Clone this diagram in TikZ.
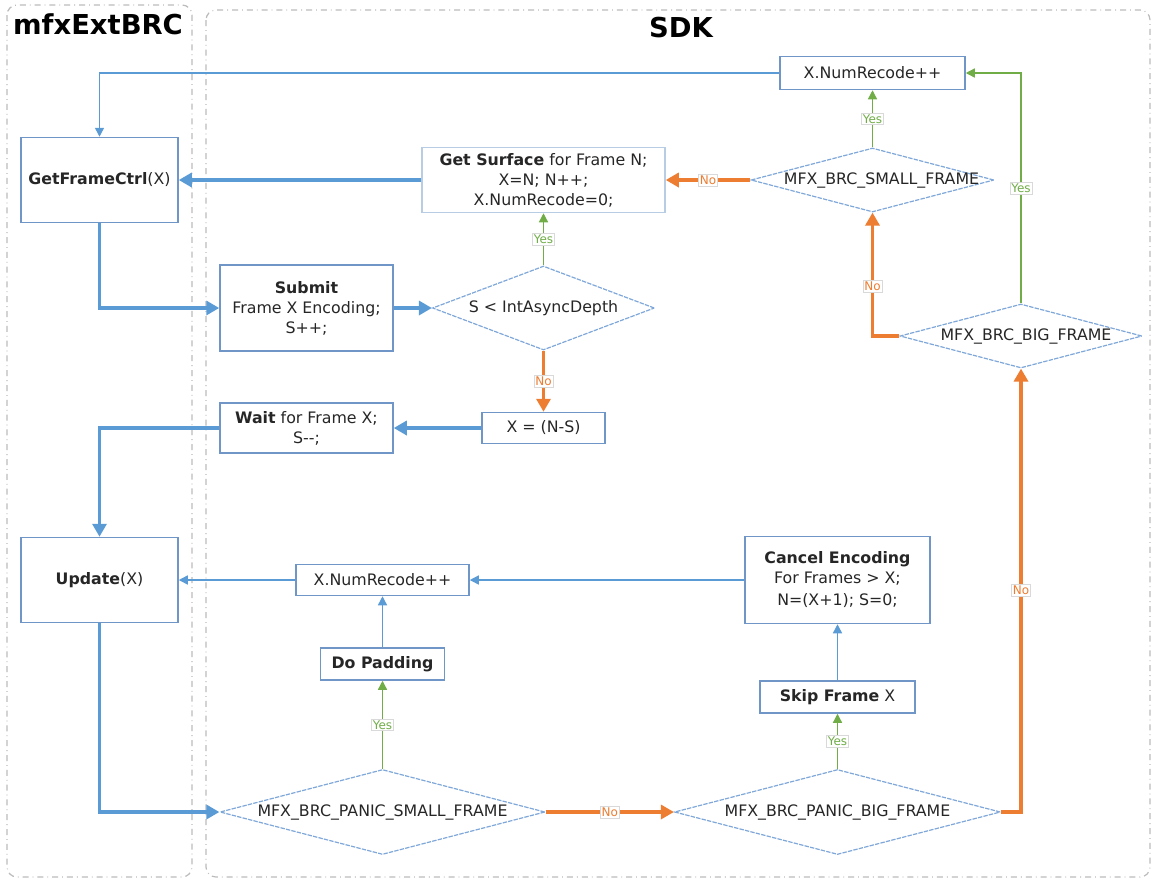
\documentclass[tikz,border=0pt]{standalone}
\usepackage{fontspec}
\setmainfont{DejaVu Sans}
\usetikzlibrary{arrows.meta,positioning,shapes.geometric}
\definecolor{boxblue}{HTML}{7096C8}
\definecolor{softblue}{HTML}{B8CCE4}
\definecolor{decblue}{HTML}{7FA7D9}
\definecolor{lineblue}{HTML}{5B9BD5}
\definecolor{nocol}{HTML}{ED7D31}
\definecolor{yescol}{HTML}{70AD47}
\definecolor{lanegray}{HTML}{BBBBBB}
\tikzset{
  box/.style={rectangle, draw=boxblue, line width=0.75pt, align=center, inner sep=0pt,
    text=black!85, font=\fontsize{7.9}{10}\selectfont},
  dec/.style={diamond, draw=decblue, dash pattern=on 2.2pt off 0.6pt, line width=0.6pt,
    inner sep=0pt, aspect=3.8, text=black!85, font=\fontsize{7.9}{10}\selectfont},
  mainline/.style={draw=lineblue, line width=1.7pt, -{Triangle[length=6.5pt,width=7pt]}},
  sideline/.style={draw=lineblue, line width=0.7pt, -{Triangle[length=4.5pt,width=4.5pt]}},
  yesline/.style={draw=yescol, line width=0.65pt, -{Triangle[length=4.5pt,width=4.5pt]}},
  noline/.style={draw=nocol, line width=1.7pt, -{Triangle[length=6.5pt,width=7pt]}},
  lbl/.style={fill=white, draw=black!15, line width=0.3pt, inner sep=0.7pt,
    font=\fontsize{6}{6}\selectfont},
  lane/.style={draw=lanegray, dash dot, line width=0.6pt, rounded corners=5pt},
  title/.style={font=\fontsize{13.7}{14}\selectfont\bfseries}
}
\begin{document}
\begin{tikzpicture}[x=0.5pt,y=-0.5pt]
  \useasboundingbox (0,0) rectangle (1151,879);
  \draw[lane] (7,5) rectangle (192,877);
  \draw[lane] (206,10) rectangle (1150,877);
  \node[title] (tbrc) at (98,24) {mfxExtBRC};
  \node[title] (tsdk) at (681,28) {SDK};

  \node[box, minimum width=92.5pt, minimum height=16.5pt] (nra) at (872.5,73) {X.NumRecode++};
  \node[box, minimum width=78.5pt, minimum height=42.5pt] (gfc) at (99.5,180) {\textbf{GetFrameCtrl}(X)};
  \node[box, draw=softblue, minimum width=121.5pt, minimum height=32.5pt] (gs) at (543.5,180)
    {\textbf{Get Surface} for Frame N;\\ X=N; N++;\\ X.NumRecode=0;};
  \node[dec, minimum width=121.5pt, minimum height=32pt] (ds) at (872.5,180) {\makebox[0pt]{\hspace{9pt}MFX\_BRC\_SMALL\_FRAME}};
  \node[box, minimum width=86.5pt, minimum height=43pt] (sub) at (306.5,308)
    {\textbf{Submit}\\ Frame X Encoding;\\ S++;};
  \node[dec, minimum width=111pt, minimum height=42pt] (da) at (543.5,308) {\makebox[0pt]{S < IntAsyncDepth}};
  \node[dec, minimum width=121pt, minimum height=32pt] (db) at (1021,336) {\makebox[0pt]{\hspace{5pt}MFX\_BRC\_BIG\_FRAME}};
  \node[box, minimum width=86.5pt, minimum height=25pt] (wt) at (306.5,428)
    {\textbf{Wait} for Frame X;\\ S-{}-;};
  \node[box, minimum width=61.5pt, minimum height=15.5pt] (xns) at (543.5,428) {X = (N-S)};
  \node[box, minimum width=78.5pt, minimum height=42.5pt] (up) at (99.5,580) {\textbf{Update}(X)};
  \node[box, minimum width=86.5pt, minimum height=15.5pt] (nrb) at (382.5,580) {X.NumRecode++};
  \node[box, minimum width=92.5pt, minimum height=43.5pt] (ce) at (837.5,580)
    {\textbf{Cancel Encoding}\\ For Frames > X;\\[1pt] N=(X+1); S=0;};
  \node[box, minimum width=62pt, minimum height=16pt] (dp) at (382.5,664) {\textbf{Do Padding}};
  \node[box, minimum width=77.5pt, minimum height=16pt] (sk) at (837.5,697) {\textbf{Skip Frame} X};
  \node[dec, minimum width=162.5pt, minimum height=42.5pt] (ps) at (382.5,812) {\makebox[0pt]{MFX\_BRC\_PANIC\_SMALL\_FRAME}};
  \node[dec, minimum width=163pt, minimum height=42.5pt] (pb) at (837.5,812) {\makebox[0pt]{MFX\_BRC\_PANIC\_BIG\_FRAME}};

  \draw[sideline] (nra.west) -| (gfc.north);
  \draw[mainline] (gs.west) -- (gfc.east);
  \draw[noline] (ds.west) -- (gs.east) node[pos=0.5, lbl, text=nocol] (n1) {No};
  \draw[yesline] (ds.north) -- (nra.south) node[midway, lbl, text=yescol] (y1) {Yes};
  \draw[yesline] (db.north) |- (nra.east) node[pos=0.25, lbl, text=yescol] (y2) {Yes};
  \draw[noline] (db.west) -| (ds.south) node[pos=0.7, lbl, text=nocol] (n2) {No};
  \draw[mainline] (gfc.south) |- (sub.west);
  \draw[mainline] (sub.east) -- (da.west);
  \draw[yesline] (da.north) -- (gs.south) node[midway, lbl, text=yescol] (y3) {Yes};
  \draw[noline] (da.south) -- (xns.north) node[midway, lbl, text=nocol] (n3) {No};
  \draw[mainline] (xns.west) -- (wt.east);
  \draw[mainline] (wt.west) -| (up.north);
  \draw[mainline] (up.south) |- (ps.west);
  \draw[noline] (ps.east) -- (pb.west) node[midway, lbl, text=nocol] (n4) {No};
  \draw[yesline] (ps.north) -- (dp.south) node[midway, lbl, text=yescol] (y4) {Yes};
  \draw[sideline] (dp.north) -- (nrb.south);
  \draw[sideline] (nrb.west) -- (up.east);
  \draw[sideline] (ce.west) -- (nrb.east);
  \draw[sideline] (sk.north) -- (ce.south);
  \draw[yesline] (pb.north) -- (sk.south) node[midway, lbl, text=yescol] (y5) {Yes};
  \draw[noline] (pb.east) -| (db.south) node[pos=0.75, lbl, text=nocol] (n5) {No};
\end{tikzpicture}
\end{document}
